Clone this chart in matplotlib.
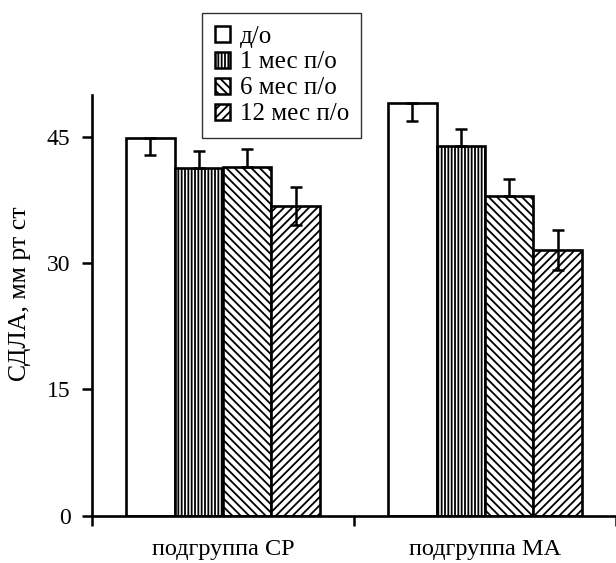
import matplotlib
matplotlib.use("Agg")
import matplotlib.pyplot as plt
import numpy as np

plt.rcParams['font.family'] = ['Liberation Serif', 'DejaVu Serif']
plt.rcParams['hatch.linewidth'] = 1.3

# данные
groups = ['подгруппа СР', 'подгруппа МА']
series = ['д/о', '1 мес п/о', '6 мес п/о', '12 мес п/о']
values = [
    [44.9, 49.05],  # д/о
    [41.3, 43.9],   # 1 мес
    [41.45, 38.0],  # 6 мес
    [36.8, 31.6],   # 12 мес
]
# в исходнике у части столбцов видна только одна половина "уса"
err_low = [
    [2.0, 2.15],
    [0.0, 0.0],
    [0.0, 0.0],
    [2.25, 2.35],
]
err_high = [
    [0.0, 0.0],
    [2.1, 2.05],
    [2.1, 2.0],
    [2.25, 2.35],
]
hatches = ['', '|||||', '\\\\\\\\', '////']

fig = plt.figure(figsize=(6.16, 5.63), dpi=100)
ax = fig.add_axes([92 / 616, 47.3 / 563, 524 / 616, 420.7 / 563])

x = np.arange(len(groups))
w = 0.185
for i, name in enumerate(series):
    pos = x + (i - 1.5) * w
    ax.bar(pos, values[i], width=w, facecolor='white', edgecolor='black',
           linewidth=1.9, hatch=hatches[i], label=name, zorder=2)
    ax.errorbar(pos, values[i], yerr=[err_low[i], err_high[i]], fmt='none',
                ecolor='black', elinewidth=1.8, capsize=4.5, capthick=1.8,
                zorder=3)

ax.set_xlim(-0.5, 1.477)
ax.set_ylim(0, 50)
ax.set_yticks([0, 15, 30, 45])
ax.set_xticks([-0.5, 0.5, 1.5])
ax.set_xticklabels([])
ax.set_xticks(x, minor=True)
ax.set_xticklabels(groups, minor=True, fontsize=17.5)
ax.tick_params(axis='x', which='minor', length=0, pad=17)
ax.tick_params(axis='x', which='major', length=7, width=1.8, direction='out')
ax.tick_params(axis='y', length=7.5, width=1.8, direction='out', labelsize=17, pad=8)

for s in ['top', 'right']:
    ax.spines[s].set_visible(False)
for s in ['left', 'bottom']:
    ax.spines[s].set_linewidth(1.9)

ax.set_ylabel('СДЛА, мм рт ст', fontsize=18.5)
ax.yaxis.set_label_coords(-0.117, 0.527)

leg = fig.legend(loc='upper left', bbox_to_anchor=(202 / 616, 1 - 13 / 563),
                 frameon=True, fancybox=False, fontsize=18,
                 handlelength=0.6, handleheight=0.6, handletextpad=0.4,
                 labelspacing=0.16, borderpad=0.5, borderaxespad=0)
leg.get_frame().set_edgecolor('black')
leg.get_frame().set_linewidth(1.0)
for p in leg.get_patches():
    p.set_linewidth(1.8)

fig.savefig('out.png', dpi=100)
